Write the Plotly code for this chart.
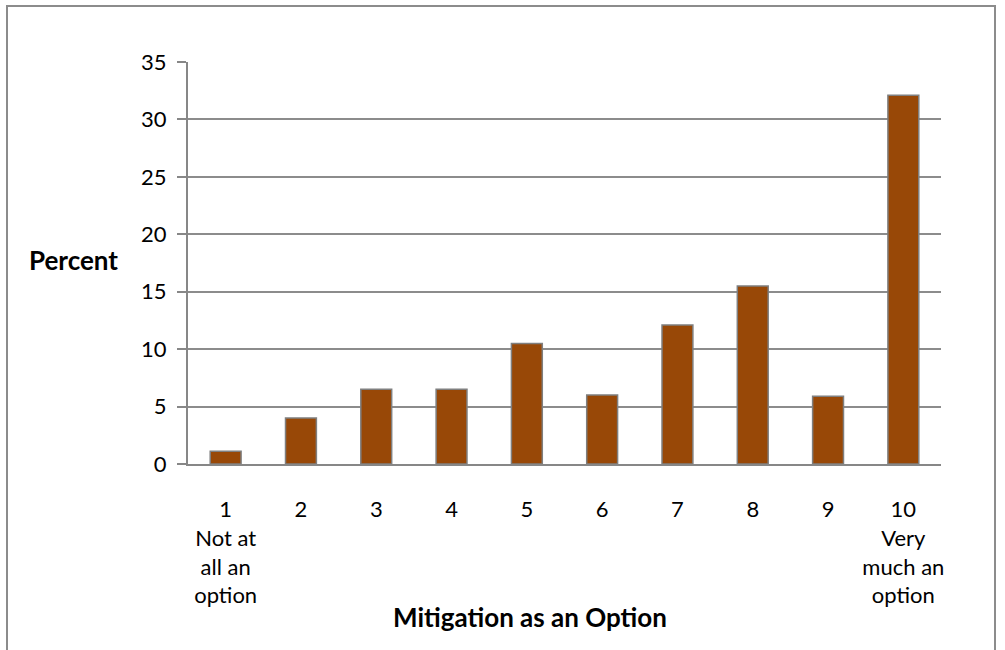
import plotly.graph_objects as go

categories = ["1<br>Not at<br>all an<br>option", "2", "3", "4", "5", "6", "7", "8", "9",
              "10<br>Very<br>much an<br>option"]
percent = [1.1, 4.0, 6.5, 6.5, 10.5, 6.0, 12.1, 15.5, 5.9, 32.1]
y_ticks = [0, 5, 10, 15, 20, 25, 30, 35]

W, H = 1005, 650
L, R, T, B = 188, 64, 62, 186
pw, ph = W - L - R, H - T - B

def px_x(x):
    return (x - L) / pw

def px_y(y):
    return (H - B - y) / ph

font_family = "Lato, 'Open Sans', sans-serif"

fig = go.Figure(go.Bar(
    x=categories, y=percent,
    marker=dict(color="#984807", line=dict(color="#7f7f7f", width=1.5)),
    width=0.41,
))

fig.update_layout(
    width=W, height=H,
    margin=dict(l=L, r=R, t=T, b=B, autoexpand=False),
    paper_bgcolor="white", plot_bgcolor="white",
    font=dict(family=font_family, size=22, color="black"),
    showlegend=False,
    xaxis=dict(
        type="category", showgrid=False, showline=True, linecolor="#878787", linewidth=2,
        ticks="", ticklabelstandoff=25, tickfont=dict(size=22), automargin=False,
    ),
    yaxis=dict(
        range=[0, 35], tickvals=y_ticks, showgrid=True, gridcolor="#8c8c8c", gridwidth=1.5,
        showline=True, linecolor="#878787", linewidth=2, ticks="outside", ticklen=9,
        tickcolor="#878787", tickwidth=2, zeroline=False, tickfont=dict(size=22),
        ticklabelstandoff=6, automargin=False,
    ),
    annotations=[
        dict(text="<b>Percent</b>", xref="paper", yref="paper", x=px_x(27), y=px_y(260),
             xanchor="left", yanchor="middle", showarrow=False, font=dict(size=26)),
        dict(text="<b>Mitigation as an Option</b>", xref="paper", yref="paper",
             x=px_x(530), y=px_y(617), xanchor="center", yanchor="middle",
             showarrow=False, font=dict(size=26)),
    ],
    shapes=[
        dict(type="rect", xref="paper", yref="paper", x0=px_x(7), x1=px_x(995),
             y0=px_y(6), y1=px_y(700), line=dict(color="#8c8c8c", width=2), layer="below"),
    ],
)

fig.write_html("out.html", config={"displayModeBar": False},
               post_script="document.body.style.margin='0';")
